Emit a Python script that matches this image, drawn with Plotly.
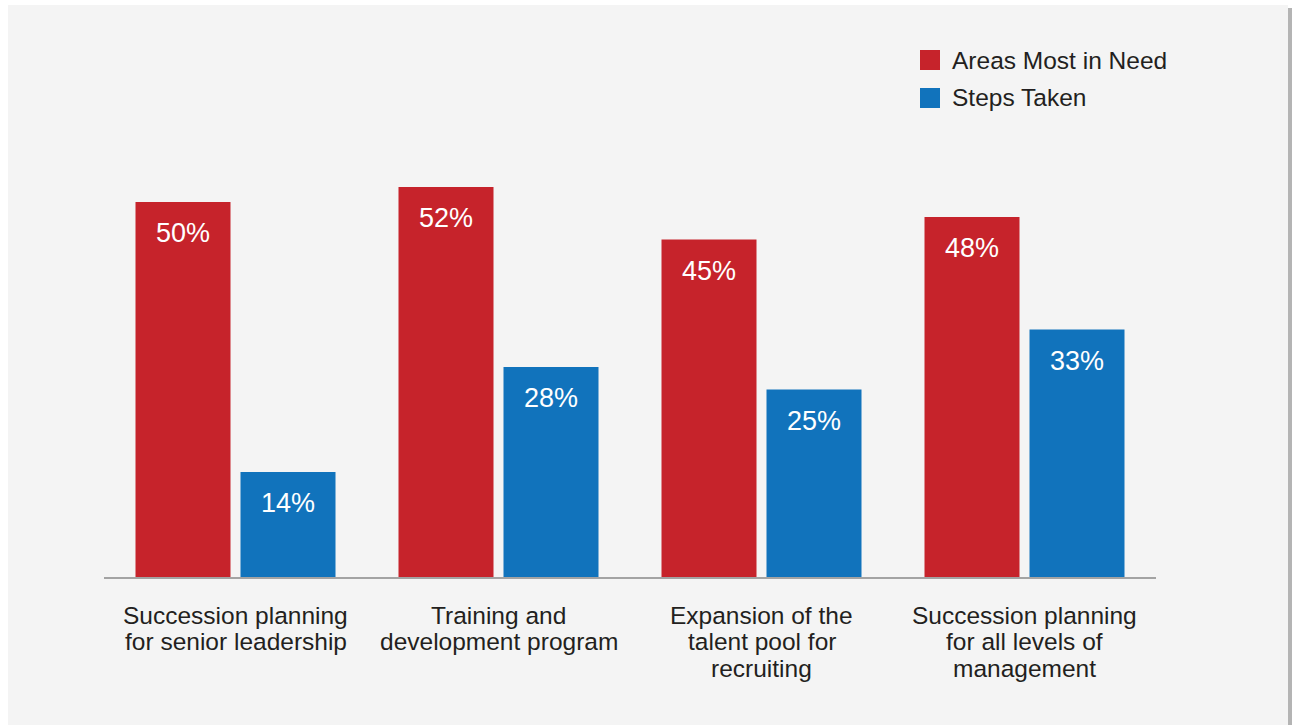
import plotly.graph_objects as go

# Survey results: areas most in need vs. steps already taken (percent of respondents)
categories = [
    "Succession planning\nfor senior leadership",
    "Training and\ndevelopment program",
    "Expansion of the\ntalent pool for\nrecruiting",
    "Succession planning\nfor all levels of\nmanagement",
]
areas_most_in_need = [50, 52, 45, 48]
steps_taken = [14, 28, 25, 33]
series_names = ["Areas Most in Need", "Steps Taken"]

RED = "#c6232b"
BLUE = "#1173bc"
TEXT = "#231f20"
FONT = "Liberation Sans, Arial, Helvetica, sans-serif"

W, H = 1292, 725
L, R, T, B = 104, 136, 127, 148
PW, PH = W - L - R, H - T - B


def px_x(px):
    return (px - L) / PW


def px_y(py):
    return (H - B - py) / PH


fig = go.Figure()
for name, vals, color in [(series_names[0], areas_most_in_need, RED),
                          (series_names[1], steps_taken, BLUE)]:
    fig.add_trace(go.Bar(
        x=categories, y=vals, name=name, marker=dict(color=color, line=dict(width=0)),
        showlegend=False, hoverinfo="skip",
    ))

annotations = []
# value labels near the top of each bar
for vals, shift in [(areas_most_in_need, -52.5), (steps_taken, 52.5)]:
    for cat, v in zip(categories, vals):
        annotations.append(dict(
            x=cat, y=v, xref="x", yref="y", xshift=shift, yshift=-31,
            text=f"{v}%", showarrow=False, yanchor="middle",
            font=dict(family=FONT, size=27, color="white"),
        ))

# multi-line category labels under the axis
for cat in categories:
    for i, line in enumerate(cat.split("\n")):
        annotations.append(dict(
            x=cat, xref="x", yref="paper", y=px_y(615 + i * 26.5),
            text=line, showarrow=False, yanchor="middle",
            font=dict(family=FONT, size=24.5, color=TEXT),
        ))

shapes = [
    # panel background and its right-hand shadow
    dict(type="rect", xref="paper", yref="paper", layer="below",
         x0=px_x(1288), x1=px_x(1292), y0=px_y(725), y1=px_y(8),
         fillcolor="#b4b4b4", line=dict(width=0)),
    dict(type="rect", xref="paper", yref="paper", layer="below",
         x0=px_x(8), x1=px_x(1288), y0=px_y(725), y1=px_y(5),
         fillcolor="#f4f4f4", line=dict(width=0)),
]
# legend entries
for i, (name, color) in enumerate(zip(series_names, [RED, BLUE])):
    top = 50 + i * 38
    shapes.append(dict(type="rect", xref="paper", yref="paper",
                       x0=px_x(920), x1=px_x(940), y0=px_y(top + 20), y1=px_y(top),
                       fillcolor=color, line=dict(width=0)))
    annotations.append(dict(
        xref="paper", yref="paper", x=px_x(950), y=px_y(top + 10),
        xanchor="left", yanchor="middle", text=name, showarrow=False,
        font=dict(family=FONT, size=24.5, color=TEXT),
    ))

fig.update_layout(
    width=W, height=H,
    margin=dict(l=L, r=R, t=T, b=B, pad=0),
    paper_bgcolor="white", plot_bgcolor="rgba(0,0,0,0)",
    barmode="group", bargap=0.2015, bargroupgap=0.0952,
    font=dict(family=FONT, color=TEXT),
    xaxis=dict(showticklabels=False, ticks="", showgrid=False, zeroline=False,
               showline=True, linecolor="#a3a3a3", linewidth=2),
    yaxis=dict(range=[0, 60], visible=False, showgrid=False, zeroline=False),
    shapes=shapes, annotations=annotations, showlegend=False,
)

fig.write_html("out.html")
